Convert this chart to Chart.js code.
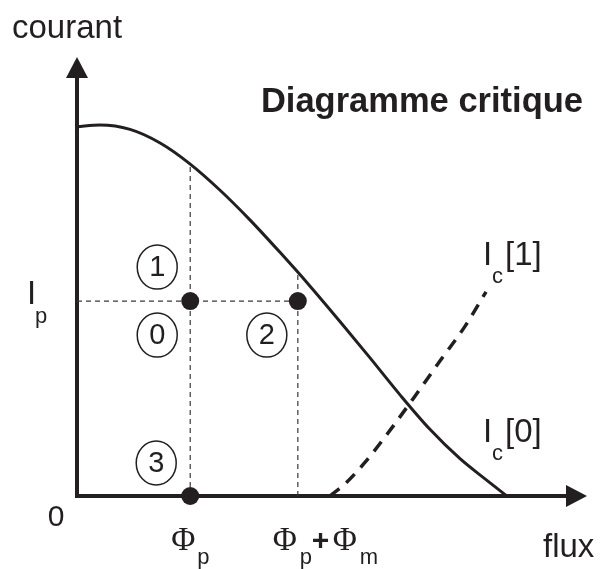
<!DOCTYPE html>
<html>
<head>
<meta charset="utf-8">
<script src="https://cdn.jsdelivr.net/npm/chart.js@4/dist/chart.umd.min.js"></script>
<style>
  body { margin: 0; background: #fff; }
</style>
</head>
<body>
<canvas id="diagramme" width="600" height="569"></canvas>
<script>
"use strict";

// courbe Ic[0] (trait plein) : flux / courant
const fluxIc0 = [0, 0.45, 1.04, 1.63, 2.22, 2.80, 3.39, 3.98, 4.57, 5.16, 5.75, 6.33, 6.92, 7.51, 8.0, 8.43];
const courantIc0 = [8.41, 8.45, 8.35, 8.04, 7.56, 6.97, 6.29, 5.55, 4.78, 3.97, 3.14, 2.31, 1.52, 0.85, 0.39, 0];

// courbe Ic[1] (pointillés)
const fluxIc1 = [4.96, 5.25, 5.65, 6.14, 6.63, 7.12, 7.61, 8.02];
const courantIc1 = [0, 0.27, 0.77, 1.50, 2.28, 3.08, 3.87, 4.65];

// points remarquables
const phiP = 2.22;   // Φp
const phiPM = 4.33;  // Φp + Φm
const iP = 4.44;     // Ip
const phiPCourbe = 7.56;   // Ic[0] en Φp
const phiPMCourbe = 5.09;  // Ic[0] en Φp+Φm

const pointsEtats = [[phiP, iP], [phiPM, iP], [phiP, 0]];
const numerosEtats = ["1", "0", "2", "3"];

const encre = "#231f20";

function toXY(xs, ys) {
    return xs.map((x, i) => ({ x: x, y: ys[i] }));
}

const schema = {
    id: 'schema',
    beforeDatasetsDraw(chart) {
        const ctx = chart.ctx;
        const sx = chart.scales.x, sy = chart.scales.y;
        const x0 = sx.getPixelForValue(0), y0 = sy.getPixelForValue(0);
        const top = sy.top, right = sx.right;
        ctx.save();
        ctx.strokeStyle = encre;
        ctx.fillStyle = encre;
        ctx.lineWidth = 4;
        ctx.lineJoin = "miter";
        ctx.beginPath();
        ctx.moveTo(x0, top + 18);
        ctx.lineTo(x0, y0);
        ctx.lineTo(right - 18, y0);
        ctx.stroke();
        // fleches
        ctx.beginPath();
        ctx.moveTo(x0, top);
        ctx.lineTo(x0 - 11, top + 21);
        ctx.lineTo(x0 + 11, top + 21);
        ctx.closePath();
        ctx.fill();
        ctx.beginPath();
        ctx.moveTo(right, y0);
        ctx.lineTo(right - 21, y0 - 11);
        ctx.lineTo(right - 21, y0 + 11);
        ctx.closePath();
        ctx.fill();
        ctx.restore();
    },
    afterDatasetsDraw(chart) {
        const ctx = chart.ctx;
        const sx = chart.scales.x, sy = chart.scales.y;
        const px = v => sx.getPixelForValue(v);
        const py = v => sy.getPixelForValue(v);
        ctx.save();
        ctx.fillStyle = encre;
        ctx.strokeStyle = encre;
        ctx.textBaseline = "alphabetic";

        // titres
        ctx.font = "33px 'Liberation Sans', Arial, sans-serif";
        ctx.textAlign = "left";
        ctx.fillText("courant", 12, 38);
        ctx.fillText("flux", 543, 557);
        ctx.font = "bold 34.5px 'Liberation Sans', Arial, sans-serif";
        ctx.textAlign = "right";
        ctx.fillText("Diagramme critique", 583, 112);

        // 0 et Ip
        ctx.textAlign = "center";
        ctx.font = "30px 'Liberation Sans', Arial, sans-serif";
        ctx.fillText("0", 56, 526);
        ctx.textAlign = "left";
        ctx.font = "33px 'Liberation Sans', Arial, sans-serif";
        ctx.fillText("I", 27, py(iP) + 3);
        ctx.font = "22px 'Liberation Sans', Arial, sans-serif";
        ctx.fillText("p", 35, py(iP) + 22);

        // Φp et Φp+Φm
        const serif = "33px 'Liberation Serif', 'Times New Roman', serif";
        const sub = "22px 'Liberation Sans', Arial, sans-serif";
        ctx.font = serif;
        ctx.fillText("Φ", px(phiP) - 19, 550);
        ctx.font = sub;
        ctx.fillText("p", px(phiP) + 7, 564);
        const xm = px(phiPM) - 25;
        ctx.font = serif;
        ctx.fillText("Φ", xm, 550);
        ctx.font = sub;
        ctx.fillText("p", xm + 27, 564);
        ctx.font = "bold 30px 'Liberation Sans', Arial, sans-serif";
        ctx.fillText("+", xm + 39, 550);
        ctx.font = serif;
        ctx.fillText("Φ", xm + 60, 550);
        ctx.font = sub;
        ctx.fillText("m", xm + 87, 564);

        // Ic[1] et Ic[0]
        const etiq = [["[1]", 265], ["[0]", 442]];
        etiq.forEach(([t, yb]) => {
            ctx.font = "33px 'Liberation Sans', Arial, sans-serif";
            ctx.fillText("I", 483, yb);
            ctx.fillText(t, 505, yb);
            ctx.font = "22px 'Liberation Sans', Arial, sans-serif";
            ctx.fillText("c", 492, yb + 18);
        });

        // numeros entoures
        const centres = [
            [px(phiP) - 33, py(iP) - 34],
            [px(phiP) - 33, py(iP) + 34],
            [px(phiPM) - 31, py(iP) + 34],
            [px(phiP) - 34, py(0) - 33]
        ];
        ctx.lineWidth = 1.5;
        ctx.textAlign = "center";
        ctx.textBaseline = "middle";
        ctx.font = "29px 'Liberation Sans', Arial, sans-serif";
        centres.forEach(([cx, cy], i) => {
            ctx.beginPath();
            ctx.ellipse(cx, cy, 20, 22, 0, 0, Math.PI * 2);
            ctx.stroke();
            ctx.fillText(numerosEtats[i], cx, cy + 1);
        });
        ctx.restore();
    }
};

const guide = {
    showLine: true,
    borderColor: "#3a3a3a",
    borderWidth: 1.2,
    borderDash: [5, 4],
    pointRadius: 0,
    clip: false
};

new Chart(document.getElementById('diagramme'), {
    type: 'scatter',
    data: {
        datasets: [
            {
                label: 'états',
                data: pointsEtats.map(p => ({ x: p[0], y: p[1] })),
                pointRadius: 9,
                pointBackgroundColor: encre,
                pointBorderWidth: 0,
                showLine: false,
                clip: false
            },
            {
                label: 'Ic[0]',
                data: toXY(fluxIc0, courantIc0),
                showLine: true,
                borderColor: encre,
                borderWidth: 3,
                cubicInterpolationMode: 'monotone',
                pointRadius: 0,
                clip: false
            },
            {
                label: 'Ic[1]',
                data: toXY(fluxIc1, courantIc1),
                showLine: true,
                borderColor: encre,
                borderWidth: 3.5,
                borderDash: [12, 9],
                cubicInterpolationMode: 'monotone',
                pointRadius: 0,
                clip: false
            },
            Object.assign({ label: 'Φp', data: [{ x: phiP, y: 0 }, { x: phiP, y: phiPCourbe }] }, guide),
            Object.assign({ label: 'Φp+Φm', data: [{ x: phiPM, y: 0 }, { x: phiPM, y: phiPMCourbe }] }, guide),
            Object.assign({ label: 'Ip', data: [{ x: 0, y: iP }, { x: phiPM, y: iP }] }, guide)
        ]
    },
    options: {
        responsive: false,
        animation: false,
        layout: { padding: { left: 77, right: 13, top: 57, bottom: 73 } },
        scales: {
            x: { type: 'linear', min: 0, max: 10, display: false },
            y: { type: 'linear', min: 0, max: 10, display: false }
        },
        plugins: {
            legend: { display: false },
            tooltip: { enabled: false }
        }
    },
    plugins: [schema]
});
</script>
</body>
</html>
